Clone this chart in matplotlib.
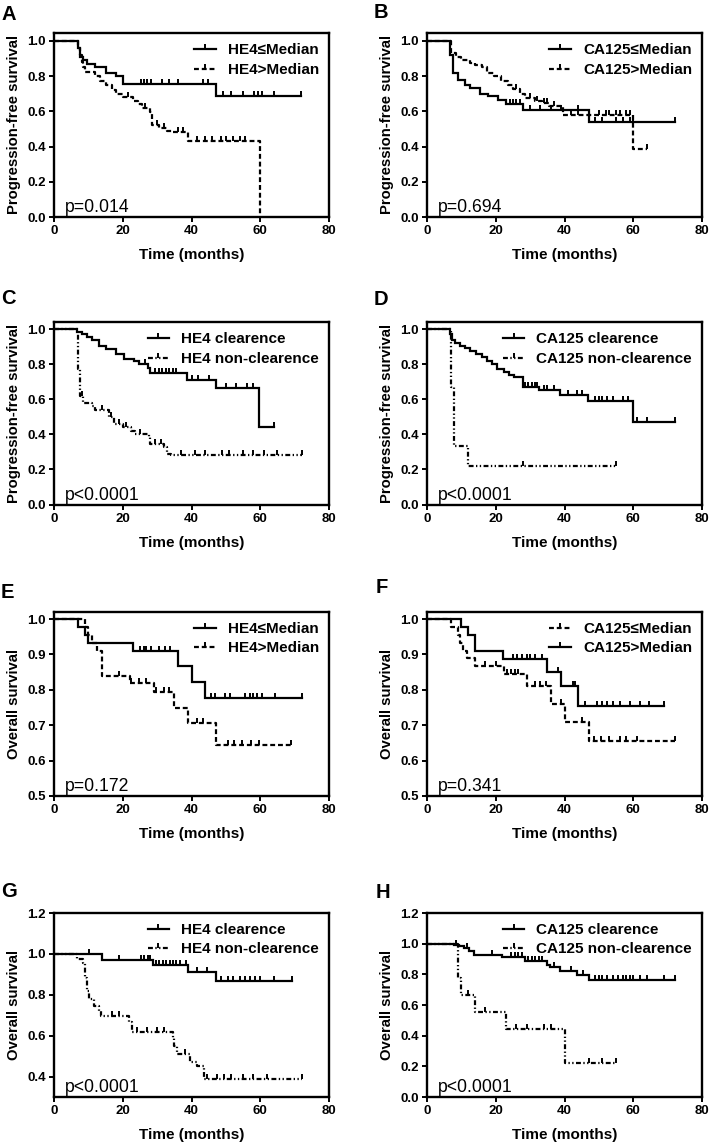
import matplotlib
matplotlib.use('Agg')
import matplotlib.pyplot as plt
from matplotlib.lines import Line2D
from matplotlib.path import Path
import numpy as np

plt.rcParams['font.family'] = ['Liberation Sans', 'DejaVu Sans']

# ---------------- data (months, survival) ----------------
# A: PFS by HE4 median split
a1_t = [7, 7.5, 8.5, 9.5, 12, 15, 18, 20, 47]
a1_s = [0.96, 0.91, 0.89, 0.87, 0.85, 0.82, 0.80, 0.755, 0.69]
a1_c = [25.4, 26.2, 27, 28.2, 31.4, 33.5, 36.1, 43.4, 44.9, 49.3, 51.5, 55.1, 58.3, 59.4, 60.4, 64.1, 71.8]
a2_t = [7, 7.5, 8, 8.5, 9, 12, 13.5, 15, 17, 18, 20, 23, 24.5, 25.5, 28, 28.5, 30.5, 33, 34.5, 39, 60]
a2_s = [0.96, 0.92, 0.88, 0.85, 0.825, 0.80, 0.77, 0.75, 0.72, 0.70, 0.68, 0.66, 0.64, 0.62, 0.595,
        0.52, 0.505, 0.49, 0.48, 0.43, 0.0]
a2_c = [21.5, 26.5, 30, 32, 36, 37.5, 41.5, 44, 46, 48.5, 50, 52, 54, 55.5]

# B: PFS by CA125 median split
b1_t = [6.8, 7.6, 9, 11, 12.4, 15.3, 17.8, 20.7, 23, 28, 47]
b1_s = [0.92, 0.82, 0.78, 0.75, 0.73, 0.70, 0.685, 0.665, 0.643, 0.606, 0.538]
b1_c = [24, 25, 26, 27, 30, 33, 36, 39, 44, 49, 51, 55, 57, 59, 60, 72]
b2_t = [7, 8.5, 10, 12.5, 14, 16, 17.5, 19.5, 21.5, 23.5, 25, 27, 28.5, 31.5, 33.5, 35.5, 39.5, 60]
b2_s = [0.93, 0.91, 0.89, 0.875, 0.865, 0.85, 0.82, 0.80, 0.77, 0.75, 0.725, 0.70, 0.675, 0.66,
        0.645, 0.63, 0.58, 0.385]
b2_c = [26, 30, 32, 34, 35, 37, 42, 44, 47, 50, 52, 53, 55, 56, 58, 59, 64]

# C: PFS by HE4 clearance
c1_t = [6.8, 8.2, 9.7, 11, 13, 15, 18, 20.4, 23.3, 24.7, 27.2, 28, 38.8, 47, 59.6]
c1_s = [0.985, 0.97, 0.955, 0.94, 0.905, 0.885, 0.855, 0.83, 0.82, 0.80, 0.78, 0.75, 0.71, 0.665, 0.44]
c1_c = [26.5, 29.5, 30.5, 31.5, 32.5, 33.5, 34.5, 35.5, 40, 42, 45, 50, 53, 56, 58, 64]
c2_t = [7, 7.5, 8.5, 11, 12, 16, 17.5, 20, 22.5, 23.5, 27.5, 28, 32, 33, 34]
c2_s = [0.77, 0.62, 0.58, 0.56, 0.54, 0.50, 0.46, 0.44, 0.42, 0.40, 0.385, 0.345, 0.33, 0.29, 0.28]
c2_c = [8.2, 14, 16.5, 19, 21, 25, 29.5, 31, 37, 41, 44, 49, 51, 55, 58, 61, 65, 72]

# D: PFS by CA125 clearance
d1_t = [6.8, 7.3, 8.2, 9.7, 11.2, 12.6, 14.4, 16, 17.5, 18.9, 20.4, 22.3, 23.8, 25.2, 27.9, 32.5,
        38.8, 46.7, 60]
d1_s = [0.97, 0.94, 0.92, 0.905, 0.89, 0.875, 0.86, 0.84, 0.82, 0.80, 0.77, 0.755, 0.74, 0.725,
        0.67, 0.655, 0.625, 0.59, 0.47]
d1_c = [28.5, 29.5, 30.5, 31.5, 32, 34, 35, 37, 41, 43.5, 45, 49, 50, 51, 52.5, 54, 57, 58.5, 61, 64, 72]
d2_t = [7, 8, 12]
d2_s = [0.667, 0.333, 0.222]
d2_c = [28, 55]

# E: OS by HE4 median split
e1_t = [7, 9, 10, 23, 36, 40, 44]
e1_s = [0.978, 0.955, 0.933, 0.911, 0.867, 0.823, 0.778]
e1_c = [25, 26.3, 26.8, 28.3, 30.5, 32.2, 33.7, 45.6, 46.8, 49.7, 51.2, 55.5, 57, 58, 59, 60.4, 64.3, 72]
e2_t = [9, 10, 11, 12.4, 14, 22, 29, 35, 39, 47]
e2_s = [0.977, 0.955, 0.932, 0.909, 0.84, 0.818, 0.795, 0.75, 0.705, 0.645]
e2_c = [18.9, 22.3, 24.8, 26.7, 29.6, 32, 33.5, 41.7, 43.2, 50.5, 52.4, 54.8, 57.3, 59.7, 69]

# F: OS by CA125 median split
f1_t = [7, 9, 9.5, 10.5, 11.5, 14, 22.5, 29, 36, 40, 47]
f1_s = [0.978, 0.955, 0.933, 0.91, 0.889, 0.866, 0.845, 0.81, 0.76, 0.708, 0.655]
f1_c = [17, 20, 23.3, 24.5, 25.5, 26.5, 31.5, 33, 34.5, 39, 45, 48.5, 50.5, 53, 56, 58, 61, 72]
f2_t = [10, 12, 14, 22, 35, 39, 44]
f2_s = [0.977, 0.955, 0.91, 0.886, 0.85, 0.81, 0.755]
f2_c = [25, 26.3, 27.5, 29, 30, 31.5, 33.5, 38.2, 42.5, 43, 46, 49.5, 51, 52.5, 54, 56, 59, 62, 64.5, 69]

# G: OS by HE4 clearance
g1_t = [14, 28.8, 39.1, 47.2]
g1_s = [0.968, 0.945, 0.91, 0.868]
g1_c = [10.2, 18.9, 25.2, 26.2, 27.2, 28, 29.6, 30.6, 31.6, 32.6, 33.6, 34.6, 35.6, 36.6, 38.3,
        41.7, 44.6, 48.5, 50.5, 52, 54, 55.5, 57, 58.5, 60, 64, 69.3]
g2_t = [6.8, 8.5, 9, 9.7, 10.3, 11.6, 13, 13.7, 21.7, 22.7, 34.6, 35, 35.7, 39.6, 41.5, 43.7]
g2_s = [0.975, 0.955, 0.88, 0.82, 0.78, 0.745, 0.72, 0.695, 0.665, 0.62, 0.59, 0.55, 0.51, 0.47, 0.45, 0.39]
g2_c = [17, 19, 24, 27, 30, 32, 38, 44.6, 47.5, 49.5, 51.4, 55, 58, 62, 72]

# H: OS by CA125 clearance
h1_t = [7.8, 9.2, 10.7, 12.1, 13.8, 21.8, 28.6, 35, 35.9, 38.8, 43.6, 47]
h1_s = [0.993, 0.985, 0.97, 0.95, 0.925, 0.91, 0.89, 0.86, 0.845, 0.82, 0.795, 0.765]
h1_c = [8.5, 11.5, 19, 24.5, 25.5, 26.5, 27.5, 29.5, 30.5, 31.5, 32.5, 33.5, 37, 42, 45.5, 49, 50,
        51, 52.5, 54, 55.5, 57, 58, 59, 60, 62, 64, 69, 72]
h2_t = [9, 10, 14, 23, 40]
h2_s = [0.778, 0.667, 0.556, 0.444, 0.222]
h2_c = [12, 17, 26, 29, 34, 36, 47, 51, 55]

# ---------------- styles ----------------
LW = 1.6
SOLID = '-'
DASH = (0, (2.2, 1.3))
DASHDOT = (0, (2.2, 1.1, 0.6, 1.1, 0.6, 1.1))
TICK = Path([(0, 0), (0, 1)], [Path.MOVETO, Path.LINETO])

W, H = 709, 1142
fig = plt.figure(figsize=(W / 100, H / 100), dpi=100)


def km_curve(ax, t, s, cens, ls):
    t = np.asarray(t, float)
    s = np.asarray(s, float)
    c = np.asarray(cens, float)
    end = max(c.max(), t[-1])
    x = np.concatenate([[0], t, [end]])
    y = np.concatenate([[1.0], s, [s[-1]]])
    ax.step(x, y, where='post', color='k', lw=LW, ls=ls, solid_joinstyle='miter')
    # censored observations: small upward ticks on the curve
    idx = np.searchsorted(t, c, side='right') - 1
    cy = np.where(idx >= 0, s[np.clip(idx, 0, None)], 1.0)
    ax.plot(c, cy, ls='none', marker=TICK, ms=6.5, mew=1.4, color='k')


PFS = 'Progression-free survival'
OS = 'Overall survival'
panels = [
    ('A', 0, 0, [(a1_t, a1_s, a1_c, SOLID, 'HE4≤Median'), (a2_t, a2_s, a2_c, DASH, 'HE4>Median')],
     PFS, (0, 1.045), np.arange(0, 1.01, 0.2), 'p=0.014'),
    ('B', 1, 0, [(b1_t, b1_s, b1_c, SOLID, 'CA125≤Median'), (b2_t, b2_s, b2_c, DASH, 'CA125>Median')],
     PFS, (0, 1.045), np.arange(0, 1.01, 0.2), 'p=0.694'),
    ('C', 0, 1, [(c1_t, c1_s, c1_c, SOLID, 'HE4 clearence'), (c2_t, c2_s, c2_c, DASHDOT, 'HE4 non-clearence')],
     PFS, (0, 1.04), np.arange(0, 1.01, 0.2), 'p<0.0001'),
    ('D', 1, 1, [(d1_t, d1_s, d1_c, SOLID, 'CA125 clearence'), (d2_t, d2_s, d2_c, DASHDOT, 'CA125 non-clearence')],
     PFS, (0, 1.04), np.arange(0, 1.01, 0.2), 'p<0.0001'),
    ('E', 0, 2, [(e1_t, e1_s, e1_c, SOLID, 'HE4≤Median'), (e2_t, e2_s, e2_c, DASH, 'HE4>Median')],
     OS, (0.5, 1.02), np.arange(0.5, 1.01, 0.1), 'p=0.172'),
    ('F', 1, 2, [(f1_t, f1_s, f1_c, DASH, 'CA125≤Median'), (f2_t, f2_s, f2_c, SOLID, 'CA125>Median')],
     OS, (0.5, 1.02), np.arange(0.5, 1.01, 0.1), 'p=0.341'),
    ('G', 0, 3, [(g1_t, g1_s, g1_c, SOLID, 'HE4 clearence'), (g2_t, g2_s, g2_c, DASHDOT, 'HE4 non-clearence')],
     OS, (0.3, 1.2), np.arange(0.4, 1.21, 0.2), 'p<0.0001'),
    ('H', 1, 3, [(h1_t, h1_s, h1_c, SOLID, 'CA125 clearence'), (h2_t, h2_s, h2_c, DASHDOT, 'CA125 non-clearence')],
     OS, (0, 1.2), np.arange(0, 1.21, 0.2), 'p<0.0001'),
]

# axes boxes in pixels: left x per column, top/bottom y per row
col_left = [54, 427]
row_top = [33, 322, 612, 913]
row_bot = [217, 504.5, 796, 1097]
ax_w = 275
letter_xy = {'A': (1, 19.5), 'B': (374, 18.5), 'C': (1, 304), 'D': (374, 305),
             'E': (1, 598), 'F': (376, 593), 'G': (1, 897), 'H': (376, 898)}
legend_spacing = [0.4, 0.4, 0.35, 0.35]

for letter, col, row, curves, ylab, ylim, yticks, ptxt in panels:
    l = col_left[col] / W
    b = 1 - row_bot[row] / H
    h = (row_bot[row] - row_top[row]) / H
    ax = fig.add_axes([l, b, ax_w / W, h])
    handles, labels = [], []
    for t, s, c, ls, lab in curves:
        km_curve(ax, t, s, c, ls)
        handles.append(Line2D([0], [0], color='k', lw=LW, ls=ls, marker=TICK, ms=6.5, mew=1.4))
        labels.append(lab)
    ax.set_xlim(0, 80)
    ax.set_ylim(*ylim)
    ax.set_xticks([0, 20, 40, 60, 80])
    ax.set_yticks(yticks)
    ax.set_yticklabels(['%.1f' % v for v in yticks])
    for sp in ax.spines.values():
        sp.set_linewidth(1.7)
    ax.tick_params(direction='out', length=3.5, width=1.4, labelsize=9.5, pad=2.5)
    for lbl in ax.get_xticklabels() + ax.get_yticklabels():
        lbl.set_fontweight('bold')
    ax.set_xlabel('Time (months)', fontsize=11, fontweight='bold')
    ax.set_ylabel(ylab, fontsize=10.7, fontweight='bold')
    ax.xaxis.set_label_coords(0.5, -0.17)
    ax.yaxis.set_label_coords(-0.12, 0.5)
    ax.legend(handles, labels, loc='upper right', frameon=False, numpoints=1,
              prop={'weight': 'bold', 'size': 11}, handlelength=1.4, handletextpad=0.8,
              labelspacing=legend_spacing[row], borderaxespad=0.25, borderpad=0.4)
    ax.text(0.038, 0.025, ptxt, transform=ax.transAxes, fontsize=12.7, va='baseline', ha='left')
    lx, ly = letter_xy[letter]
    fig.text(lx / W, 1 - ly / H, letter, fontsize=14.5, fontweight='bold', va='baseline', ha='left')

fig.savefig('out.png', dpi=100)
